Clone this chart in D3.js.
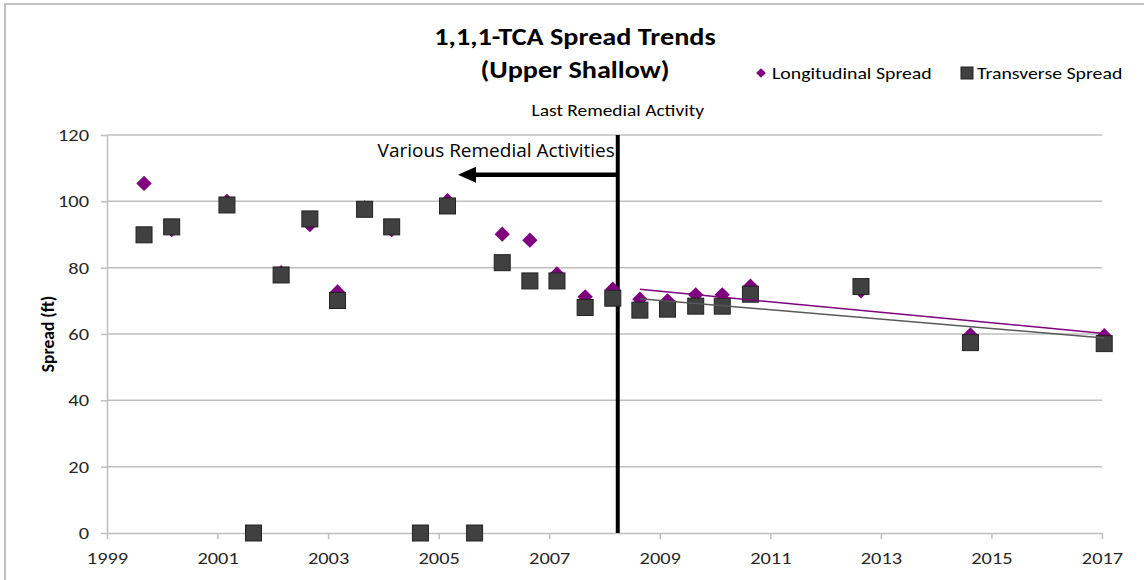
<!DOCTYPE html>
<html>
<head>
<meta charset="utf-8">
<script src="https://cdn.jsdelivr.net/npm/d3@7"></script>
<style>
  html, body { margin: 0; padding: 0; background: #fff; }
  svg { display: block; }
  .calib { font-family: Carlito, Calibri, "Open Sans", "Noto Sans", sans-serif; }
</style>
</head>
<body>
<svg id="chart" width="1144" height="580"></svg>
<script>
// Sampling dates (decimal years)
const sampleDates = [1999.67, 2000.17, 2001.17, 2001.65, 2002.15, 2002.67, 2003.17, 2003.66, 2004.15,
  2004.67, 2005.16, 2005.65, 2006.15, 2006.65, 2007.14, 2007.65, 2008.15, 2008.64, 2009.14,
  2009.65, 2010.13, 2010.64, 2012.64, 2014.62, 2017.04];

// Plume spread (ft) per sampling event
const longitudinalSpread = [105.4, 91.5, 100.0, null, 78.5, 93.0, 72.7, 98.0, 91.5,
  null, 100.2, null, 90.1, 88.3, 78.1, 71.2, 73.5, 70.5, 70.0,
  71.8, 71.8, 74.4, 73.0, 59.7, 59.5];
const transverseSpread = [89.9, 92.3, 98.9, 0, 77.8, 94.7, 70.1, 97.6, 92.3,
  0, 98.6, 0, 81.5, 76.0, 76.0, 68.0, 70.8, 67.2, 67.5,
  68.4, 68.4, 72.0, 74.3, 57.4, 57.1];

const yTickValues = [0, 20, 40, 60, 80, 100, 120];
const xTickValues = [1999, 2001, 2003, 2005, 2007, 2009, 2011, 2013, 2015, 2017];

// Annotation positions (decimal years)
const lastRemedialYear = 2008.24;
const variousArrowTipYear = 2005.35;
const variousArrowY = 108;

// the chart's text is set slightly wide
const stretch = 1.2;

const svg = d3.select("#chart");

// chart area frame
svg.append("rect").attr("x", 5).attr("y", 4).attr("width", 1160).attr("height", 600)
  .attr("fill", "#fff").attr("stroke", "#c0c0c0").attr("stroke-width", 2);

const x = d3.scaleLinear().domain([1999, 2017]).range([107, 1102]);
const y = d3.scaleLinear().domain([0, 120]).range([533, 135]);

const gridColor = "#bfbfbf";

// wide text helper: anchored at (px, py) then stretched horizontally
function wideText(px, py, str, size, opts = {}) {
  const g = svg.append("g").attr("transform", `translate(${px},${py}) scale(${stretch},1)`);
  return g.append("text").attr("class", "calib")
    .attr("text-anchor", opts.anchor || "start")
    .attr("font-size", size)
    .attr("font-weight", opts.weight || "normal")
    .attr("fill", opts.fill || "#000")
    .text(str);
}

// horizontal gridlines
svg.append("g").selectAll("line").data(yTickValues.filter(v => v > 0)).join("line")
  .attr("x1", x(1999)).attr("x2", x(2017))
  .attr("y1", d => y(d)).attr("y2", d => y(d))
  .attr("stroke", gridColor).attr("stroke-width", 1.5);

// axes
const yAxis = svg.append("g").attr("transform", `translate(${x(1999)},0)`)
  .call(d3.axisLeft(y).tickValues(yTickValues).tickSize(6).tickPadding(9).tickSizeOuter(0));
const xAxis = svg.append("g").attr("transform", `translate(0,${y(0)})`)
  .call(d3.axisBottom(x).tickValues(xTickValues).tickFormat(d3.format("d")).tickSize(6).tickPadding(13).tickSizeOuter(0));
[yAxis, xAxis].forEach(g => {
  g.selectAll("path.domain, .tick line").attr("stroke", gridColor).attr("stroke-width", 1.5);
  g.selectAll("text").attr("class", "calib").attr("font-size", 17).attr("fill", "#262626")
    .attr("transform", `scale(${stretch},1)`);
});

// y-axis title
svg.append("text").attr("class", "calib")
  .attr("transform", "translate(48,334) rotate(-90)")
  .attr("text-anchor", "middle").attr("dy", "0.35em")
  .attr("font-size", 17.5).attr("font-weight", "bold").attr("fill", "#000")
  .text("Spread (ft)");

// last remedial activity marker line
svg.append("line")
  .attr("x1", x(lastRemedialYear)).attr("x2", x(lastRemedialYear))
  .attr("y1", y(120)).attr("y2", y(0))
  .attr("stroke", "#000").attr("stroke-width", 4);
wideText(x(lastRemedialYear), 116, "Last Remedial Activity", 16.2, { anchor: "middle" });

// arrow pointing back to earlier remedial activities
const ay = y(variousArrowY);
const tipX = x(variousArrowTipYear);
svg.append("line")
  .attr("x1", x(lastRemedialYear)).attr("x2", tipX + 14)
  .attr("y1", ay).attr("y2", ay)
  .attr("stroke", "#000").attr("stroke-width", 4.5);
svg.append("path")
  .attr("d", `M${tipX},${ay} L${tipX + 18},${ay - 8} L${tipX + 18},${ay + 8} Z`)
  .attr("fill", "#000");
svg.append("text")
  .attr("x", x(lastRemedialYear) - 3).attr("y", 157)
  .attr("text-anchor", "end").attr("font-size", 19)
  .attr("font-family", "'Open Sans', 'Noto Sans', sans-serif").attr("fill", "#000")
  .text("Various Remedial Activities");

// linear trends over the post-remedial period
function trend(values) {
  const pts = sampleDates.map((d, i) => [d, values[i]])
    .filter(p => p[0] > lastRemedialYear && p[1] != null);
  const mx = d3.mean(pts, p => p[0]), my = d3.mean(pts, p => p[1]);
  const sxy = d3.sum(pts, p => (p[0] - mx) * (p[1] - my));
  const sxx = d3.sum(pts, p => (p[0] - mx) ** 2);
  const b = sxy / sxx, a = my - b * mx;
  const x0 = d3.min(pts, p => p[0]), x1 = d3.max(pts, p => p[0]);
  return [[x0, a + b * x0], [x1, a + b * x1]];
}
const trendLine = d3.line().x(p => x(p[0])).y(p => y(p[1]));

const purple = "#7f007f";
const squareFill = "#404040";

// longitudinal series (diamonds)
const diamond = d3.symbol().type(d3.symbolDiamond2).size(150);
svg.append("g").selectAll("path")
  .data(sampleDates.map((d, i) => [d, longitudinalSpread[i]]).filter(p => p[1] != null))
  .join("path")
  .attr("transform", p => `translate(${x(p[0])},${y(p[1])})`)
  .attr("d", diamond)
  .attr("fill", purple);

// transverse series (squares)
const sq = 16;
svg.append("g").selectAll("rect")
  .data(sampleDates.map((d, i) => [d, transverseSpread[i]]).filter(p => p[1] != null))
  .join("rect")
  .attr("x", p => x(p[0]) - sq / 2).attr("y", p => y(p[1]) - sq / 2)
  .attr("width", sq).attr("height", sq)
  .attr("fill", squareFill).attr("stroke", "#222").attr("stroke-width", 1);

svg.append("path").attr("d", trendLine(trend(longitudinalSpread)))
  .attr("fill", "none").attr("stroke", purple).attr("stroke-width", 1.5);
svg.append("path").attr("d", trendLine(trend(transverseSpread)))
  .attr("fill", "none").attr("stroke", "#595959").attr("stroke-width", 1.5);

// title
wideText(575, 45, "1,1,1-TCA Spread Trends", 23.5, { anchor: "middle", weight: "bold" });
wideText(575, 78, "(Upper Shallow)", 23.5, { anchor: "middle", weight: "bold" });

// legend
svg.append("path").attr("transform", "translate(761,73)")
  .attr("d", d3.symbol().type(d3.symbolDiamond2).size(60)).attr("fill", purple);
wideText(772, 79, "Longitudinal Spread", 16.5);
svg.append("rect").attr("x", 961).attr("y", 67).attr("width", 12).attr("height", 12)
  .attr("fill", squareFill).attr("stroke", "#222").attr("stroke-width", 1);
wideText(977, 79, "Transverse Spread", 16.5);
</script>
</body>
</html>
